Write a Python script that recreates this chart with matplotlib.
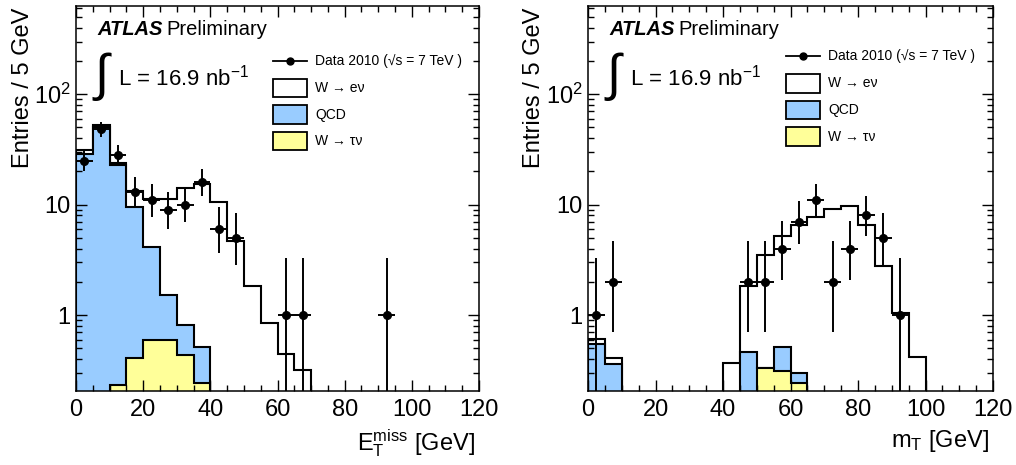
import math
import numpy as np
import matplotlib
matplotlib.use("Agg")
import matplotlib.pyplot as plt
from matplotlib.patches import Rectangle
from matplotlib.ticker import MultipleLocator, FixedLocator, FixedFormatter, LogLocator, NullFormatter

plt.rcParams['font.family'] = ['Liberation Sans', 'DejaVu Sans']
plt.rcParams['mathtext.fontset'] = 'custom'
plt.rcParams['mathtext.rm'] = 'Liberation Sans'
plt.rcParams['mathtext.it'] = 'Liberation Sans:italic'

# 5 GeV bins from 0 to 120
edges = np.arange(0, 125, 5)

# missing E_T panel
met_wenu = [2.0, 2.0, 1.0, 3.8, 7.2, 9.8, 13.4, 14.9, 10.5, 4.7, 1.85, 0.84, 0.44, 0.32,
            0, 0, 0, 0, 0, 0, 0, 0, 0, 0]
met_qcd = [29, 51, 22.8, 9.1, 3.5, 0.92, 0.39, 0.27, 0, 0, 0, 0, 0, 0,
           0, 0, 0, 0, 0, 0, 0, 0, 0, 0]
met_wtau = [0, 0, 0.23, 0.41, 0.60, 0.60, 0.43, 0.24, 0, 0, 0, 0, 0, 0,
            0, 0, 0, 0, 0, 0, 0, 0, 0, 0]
met_data = [25, 48, 28, 13, 11, 9, 10, 16, 6, 5, 0, 0, 1, 1, 0, 0, 0, 0, 1, 0, 0, 0, 0, 0]

# transverse mass panel
mt_wenu = [0.06, 0.05, 0, 0, 0, 0, 0, 0, 0.37, 1.38, 3.16, 4.64, 6.2, 7.66, 9.2, 9.75,
           6.5, 2.8, 1.04, 0.42, 0, 0, 0, 0]
mt_qcd = [0.55, 0.36, 0, 0, 0, 0, 0, 0, 0, 0.46, 0, 0.20, 0.06, 0, 0, 0,
          0, 0, 0, 0, 0, 0, 0, 0]
mt_wtau = [0, 0, 0, 0, 0, 0, 0, 0, 0, 0, 0.33, 0.31, 0.24, 0, 0, 0,
           0, 0, 0, 0, 0, 0, 0, 0]
mt_data = [1, 2, 0, 0, 0, 0, 0, 0, 0, 2, 2, 4, 7, 11, 2, 4, 8, 5, 1, 0, 0, 0, 0, 0]

legend_labels = ["Data 2010 (\u221as = 7 TeV )", "W \u2192 e\u03bd", "QCD", "W \u2192 \u03c4\u03bd"]
col_qcd = "#99ccff"
col_tau = "#ffff99"


def pois_cdf(k, mu):
    if mu <= 0:
        return 1.0
    return sum(math.exp(-mu + i * math.log(mu) - math.lgamma(i + 1)) for i in range(k + 1))


def bisect(f, a, b):
    for _ in range(80):
        m = 0.5 * (a + b)
        if f(a) * f(m) <= 0:
            b = m
        else:
            a = m
    return 0.5 * (a + b)


def garwood(n):
    # 68% central poisson interval
    q = 0.158655
    up = bisect(lambda u: pois_cdf(n, u) - q, n, n + 10 * math.sqrt(n) + 10)
    lo = 0.0 if n == 0 else bisect(lambda l: pois_cdf(n - 1, l) - (1 - q), 1e-9, n)
    return lo, up


def draw_panel(ax, wenu, qcd, wtau, data, xlabel, leg_dy):
    wenu, qcd, wtau = np.array(wenu), np.array(qcd), np.array(wtau)
    tiny = 1e-4
    tot = wenu + qcd + wtau
    ax.stairs(np.maximum(tot, tiny), edges, baseline=tiny, fill=True,
              facecolor="white", edgecolor="black", lw=1.5)
    ax.stairs(np.maximum(qcd + wtau, tiny), edges, baseline=tiny, fill=True,
              facecolor=col_qcd, edgecolor="black", lw=1.5)
    ax.stairs(np.maximum(wtau, tiny), edges, baseline=tiny, fill=True,
              facecolor=col_tau, edgecolor="black", lw=1.5)

    centers = 0.5 * (edges[:-1] + edges[1:])
    data = np.array(data)
    sel = data > 0
    xs, ys = centers[sel], data[sel]
    lo, hi = [], []
    for n in ys:
        l, u = garwood(int(n))
        lo.append(n - l)
        hi.append(u - n)
    ax.errorbar(xs, ys, xerr=2.5, yerr=[lo, hi], fmt='o', color='black',
                ms=5.5, elinewidth=1.4, capsize=0, zorder=5)

    ax.set_xlim(0, 120)
    ax.set_yscale('log')
    ax.set_ylim(0.205, 630)
    ax.xaxis.set_major_locator(MultipleLocator(20))
    ax.xaxis.set_minor_locator(MultipleLocator(5))
    ax.yaxis.set_major_locator(FixedLocator([1, 10, 100]))
    ax.yaxis.set_major_formatter(FixedFormatter(["1", "10", "$10^{2}$"]))
    ax.yaxis.set_minor_locator(LogLocator(base=10, subs=np.arange(2, 10)))
    ax.yaxis.set_minor_formatter(NullFormatter())
    ax.tick_params(which='both', direction='in', top=True, right=True, width=1,
                   labelsize=17)
    ax.tick_params(which='major', length=8)
    ax.tick_params(which='minor', length=4.5)
    ax.tick_params(axis='x', pad=6)
    ax.tick_params(axis='y', pad=4)
    for s in ax.spines.values():
        s.set_linewidth(1.1)

    ax.set_ylabel("Entries / 5 GeV", fontsize=17, loc='top')
    ax.yaxis.set_label_coords(-0.105, 0.995)
    ax.set_xlabel(xlabel, fontsize=17, loc='right')
    ax.xaxis.set_label_coords(0.99, -0.095)

    # ATLAS label
    t = ax.text(0.052, 0.925, "ATLAS", transform=ax.transAxes, fontsize=14.5,
                fontweight='bold', fontstyle='italic', va='baseline')
    fig = ax.figure
    fig.canvas.draw()
    bb = t.get_window_extent(renderer=fig.canvas.get_renderer())
    x1 = ax.transAxes.inverted().transform((bb.x1, bb.y0))[0]
    ax.text(x1 + 0.01, 0.925, "Preliminary", transform=ax.transAxes, fontsize=14.5,
            va='baseline')
    ax.text(0.045, 0.818, "\u222b", transform=ax.transAxes, fontsize=37,
            va='center', fontweight='light')
    ax.text(0.104, 0.815, "L = 16.9 nb$^{-1}$", transform=ax.transAxes, fontsize=16,
            va='center')

    # legend
    lx0, lx1 = 0.488, 0.574
    ytop = 0.858 + leg_dy
    ax.plot([lx0, lx1], [ytop, ytop], color='black', lw=1.3, transform=ax.transAxes)
    ax.plot([0.5 * (lx0 + lx1)], [ytop], 'o', color='black', ms=5,
            transform=ax.transAxes)
    ax.text(0.593, ytop, legend_labels[0], transform=ax.transAxes, fontsize=10,
            va='center')
    fills = ["white", col_qcd, col_tau]
    for i, fc in enumerate(fills):
        yc = ytop - 0.071 - i * 0.069
        ax.add_patch(Rectangle((lx0, yc - 0.024), lx1 - lx0, 0.048, transform=ax.transAxes,
                               facecolor=fc, edgecolor='black', lw=1.3))
        ax.text(0.593, yc, legend_labels[i + 1], transform=ax.transAxes, fontsize=10,
                va='center')


fig = plt.figure(figsize=(10.16, 4.65), dpi=100)
ax1 = fig.add_axes([76 / 1016, 74 / 465, 403 / 1016, 385 / 465])
ax2 = fig.add_axes([588 / 1016, 74 / 465, 405 / 1016, 385 / 465])

draw_panel(ax1, met_wenu, met_qcd, met_wtau, met_data,
           r"$\mathrm{E_{T}^{miss}}$ [GeV]", 0.0)
draw_panel(ax2, mt_wenu, mt_qcd, mt_wtau, mt_data,
           r"$\mathrm{m_{T}}$ [GeV]", 0.012)

fig.savefig("out.png", dpi=100)
